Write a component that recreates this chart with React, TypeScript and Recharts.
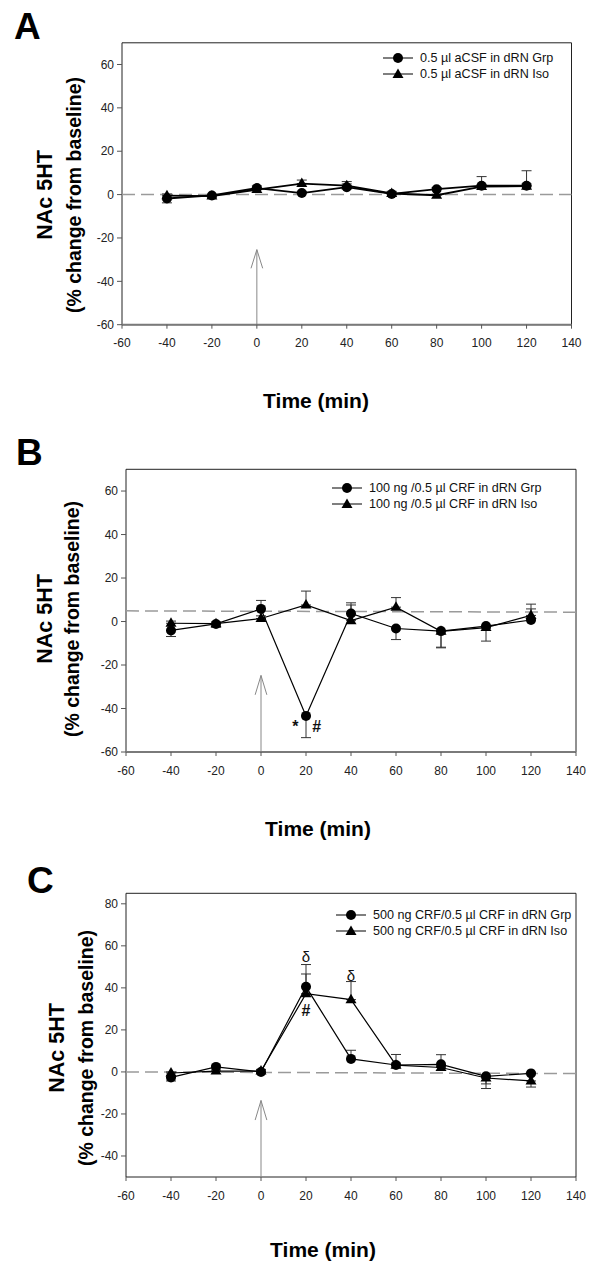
import React from 'react';
import { LineChart, Line, XAxis, YAxis, ErrorBar, ReferenceLine, ReferenceArea, ReferenceDot, Legend } from 'recharts';

const times = [-40, -20, 0, 20, 40, 60, 80, 100, 120];
const xTicks = [-60, -40, -20, 0, 20, 40, 60, 80, 100, 120, 140];
const yTicksAB = [-60, -40, -20, 0, 20, 40, 60];
const yTicksC = [-40, -20, 0, 20, 40, 60, 80];

// panel A - aCSF
const grpA = [-1.8, -0.4, 3.0, 0.7, 3.4, 0.3, 2.5, 4.1, 4.1];
const isoA = [-0.5, -0.7, 2.3, 5.1, 4.1, 0.5, -0.3, 3.7, 3.9];
const grpErrA = [[2, 0], [0.8, 0], [0, 1], [0, 0.8], [0, 1.5], [0, 0.8], [0, 0.8], [0, 4.2], [0, 6.9]];
const isoErrA = [[0, 0.8], [0, 0.5], [0, 0.8], [0, 1.6], [0, 1.9], [0, 1], [0, 0.5], [0, 1], [0, 1]];
const namesA = ['0.5 µl aCSF in dRN Grp', '0.5 µl aCSF in dRN Iso'];
const baselineA = [0, 0];
const arrowA = [-25.4, -34];

// panel B - 100 ng CRF
const grpB = [-4.1, -1.1, 5.8, -43.4, 3.7, -3.2, -4.4, -2.1, 0.7];
const isoB = [-0.8, -1.0, 1.4, 7.6, 0.4, 6.6, -4.5, -2.8, 2.8];
const grpErrB = [[2.8, 0], [1.5, 0], [0, 3.9], [10, 0], [0, 4.9], [5.1, 0], [7.4, 0], [1, 0], [0, 5.1]];
const isoErrB = [[0, 1], [0, 0.8], [0, 1.2], [0, 6.4], [0, 7.2], [0, 4.4], [7.6, 0], [6.2, 0], [0, 5.2]];
const namesB = ['100 ng /0.5 µl CRF in dRN Grp', '100 ng /0.5 µl CRF in dRN Iso'];
const baselineB = [4.9, 4.3];
const arrowB = [-24.8, -33.7];
const notesB = [{ x: 15.3, y: -48.3, t: '*' }, { x: 24.8, y: -48.3, t: '#' }];

// panel C - 500 ng CRF
const grpC = [-2.6, 2.4, 0.0, 40.5, 6.2, 3.3, 3.6, -2.1, -0.7];
const isoC = [-0.5, 0.4, 0.4, 37.2, 34.4, 3.2, 2.1, -2.9, -4.3];
const grpErrC = [[1.7, 0], [0, 0.8], [0, 1], [0, 10.6], [0, 4.1], [0, 5], [0, 4.6], [5.8, 0], [0, 0.5]];
const isoErrC = [[0, 0.5], [0, 0.5], [0, 0.8], [0, 9.4], [0, 8.6], [0, 1], [0, 0.5], [2.8, 0], [2.9, 0]];
const namesC = ['500 ng CRF/0.5 µl CRF in dRN Grp', '500 ng CRF/0.5 µl CRF in dRN Iso'];
const baselineC = [0, -0.8];
const arrowC = [-13.6, -22.9];
const notesC = [{ x: 20, y: 54.8, t: 'δ' }, { x: 40, y: 45.8, t: 'δ' }, { x: 20, y: 29.4, t: '#' }];

const FONT = "'Liberation Sans', Arial, Helvetica, sans-serif";
const W = 609;
const Y_AXIS_W = 40;
const X_AXIS_H = 30;
const grayAxis = { stroke: '#7a7a7a', strokeWidth: 2 };

const panels = [
  {
    letter: 'A', height: 420, plot: { left: 122, right: 571.5, top: 42.8, bottom: 356.7 }, yDomain: [-60, 70], yTicks: yTicksAB,
    grp: grpA, iso: isoA, grpErr: grpErrA, isoErr: isoErrA, names: namesA, baseline: baselineA, arrow: arrowA, notes: [] as { x: number; y: number; t: string }[],
    letterPos: { x: 14, y: 39 }, nacX: 44.5, pctX: 73.5, yLabY: 195, xLab: { x: 316, y: 400 }, legend: { x: 383, y: 58.2 },
    xAxisLine: grayAxis, lineW: 1.8,
  },
  {
    letter: 'B', height: 420, plot: { left: 126, right: 576, top: 49.3, bottom: 364 }, yDomain: [-60, 70], yTicks: yTicksAB,
    grp: grpB, iso: isoB, grpErr: grpErrB, isoErr: isoErrB, names: namesB, baseline: baselineB, arrow: arrowB, notes: notesB,
    letterPos: { x: 16, y: 45 }, nacX: 44.5, pctX: 71.7, yLabY: 199, xLab: { x: 318, y: 408 }, legend: { x: 332, y: 67.7 },
    xAxisLine: grayAxis, lineW: 1.2,
  },
  {
    letter: 'C', height: 426, plot: { left: 126, right: 576, top: 53.3, bottom: 369 }, yDomain: [-50, 85], yTicks: yTicksC,
    grp: grpC, iso: isoC, grpErr: grpErrC, isoErr: isoErrC, names: namesC, baseline: baselineC, arrow: arrowC, notes: notesC,
    letterPos: { x: 27, y: 53 }, nacX: 57, pctX: 86, yLabY: 208, xLab: { x: 323, y: 409 }, legend: { x: 336, y: 75 },
    xAxisLine: false as const, lineW: 1.2,
  },
];

const circleDot = (props: any) => {
  const { cx, cy, index } = props;
  if (cx == null || cy == null) return <g key={`c${index}`} />;
  return <circle key={`c${index}`} cx={cx} cy={cy} r={5} fill="#000" />;
};

const triangleDot = (props: any) => {
  const { cx, cy, index } = props;
  if (cx == null || cy == null) return <g key={`t${index}`} />;
  return <path key={`t${index}`} d={`M${cx},${cy - 6}L${cx + 5.5},${cy + 3.5}L${cx - 5.5},${cy + 3.5}Z`} fill="#000" />;
};

const makeLegend = (names: string[]) => () => (
  <div style={{ fontFamily: FONT, fontSize: 12.6, color: '#111' }}>
    {names.map((n, i) => (
      <div key={n} style={{ display: 'flex', alignItems: 'center', height: 16, whiteSpace: 'nowrap' }}>
        <svg width={30} height={12} style={{ marginRight: 7 }}>
          <line x1={0} y1={6} x2={30} y2={6} stroke="#555" strokeWidth={1.5} />
          {i === 0 ? <circle cx={15} cy={6} r={5} fill="#000" /> : <path d="M15,0.5L20.5,10L9.5,10Z" fill="#000" />}
        </svg>
        {n}
      </div>
    ))}
  </div>
);

function Panel({ p }: { p: (typeof panels)[number] }) {
  const rows = times.map((t, i) => ({ t, grp: p.grp[i], iso: p.iso[i], grpErr: p.grpErr[i], isoErr: p.isoErr[i] }));
  const margin = {
    top: p.plot.top,
    right: W - p.plot.right,
    left: p.plot.left - Y_AXIS_W,
    bottom: p.height - p.plot.bottom - X_AXIS_H,
  };
  const [yMin, yMax] = p.yDomain;
  const [tip, base] = p.arrow;
  const tickStyle = { fontSize: 12, fill: '#222', fontFamily: FONT };

  return (
    <div style={{ position: 'relative', width: W, height: p.height }}>
      <LineChart width={W} height={p.height} data={rows} margin={margin}>
        <ReferenceArea x1={-60} x2={140} y1={yMin} y2={yMax} fill="none" fillOpacity={0} stroke="#222" strokeWidth={1} />
        <XAxis
          dataKey="t" type="number" domain={[-60, 140]} ticks={xTicks} allowDataOverflow
          height={X_AXIS_H} axisLine={p.xAxisLine} tickLine={{ stroke: '#555' }} tickSize={4} tickMargin={10} tick={tickStyle}
        />
        <YAxis
          type="number" domain={p.yDomain} ticks={p.yTicks} allowDataOverflow width={Y_AXIS_W}
          axisLine={false} tickLine={{ stroke: '#555' }} tickSize={5} tickMargin={3} tick={tickStyle}
        />
        <ReferenceLine
          segment={[{ x: -60, y: p.baseline[0] }, { x: 140, y: p.baseline[1] }]}
          stroke="#9a9a9a" strokeWidth={1.5} strokeDasharray="13 6"
        />
        <ReferenceLine segment={[{ x: 0, y: yMin }, { x: 0, y: tip }]} stroke="#888" strokeWidth={1} />
        <ReferenceLine segment={[{ x: 0, y: tip }, { x: -2.6, y: base }]} stroke="#888" strokeWidth={1} />
        <ReferenceLine segment={[{ x: 0, y: tip }, { x: 2.6, y: base }]} stroke="#888" strokeWidth={1} />
        <Line dataKey="iso" stroke="#000" strokeWidth={p.lineW} dot={triangleDot} activeDot={false} isAnimationActive={false}>
          <ErrorBar dataKey="isoErr" direction="y" width={5} stroke="#333" strokeWidth={1} isAnimationActive={false} />
        </Line>
        <Line dataKey="grp" stroke="#000" strokeWidth={p.lineW} dot={circleDot} activeDot={false} isAnimationActive={false}>
          <ErrorBar dataKey="grpErr" direction="y" width={5} stroke="#333" strokeWidth={1} isAnimationActive={false} />
        </Line>
        {p.notes.map((n, i) => (
          <ReferenceDot
            key={i} x={n.x} y={n.y} r={0}
            shape={(s: any) => (
              <text x={s.cx} y={s.cy} textAnchor="middle" dominantBaseline="central"
                fontFamily={FONT} fontWeight={n.t === 'δ' ? 'normal' : 'bold'} fontSize={n.t === 'δ' ? 15 : 16} fill="#111">
                {n.t}
              </text>
            )}
          />
        ))}
        <Legend content={makeLegend(p.names)} wrapperStyle={{ left: p.legend.x, top: p.legend.y - 8, width: 'auto', height: 'auto' }} />
      </LineChart>
      <svg width={W} height={p.height} style={{ position: 'absolute', left: 0, top: 0, pointerEvents: 'none' }}>
        <text x={p.letterPos.x} y={p.letterPos.y} fontFamily={FONT} fontWeight="bold" fontSize={37} fill="#000">{p.letter}</text>
        <text x={p.nacX} y={p.yLabY} transform={`rotate(-90 ${p.nacX} ${p.yLabY})`} textAnchor="middle" dominantBaseline="central"
          fontFamily={FONT} fontWeight="bold" fontSize={21.5} fill="#000">NAc 5HT</text>
        <text x={p.pctX} y={p.yLabY} transform={`rotate(-90 ${p.pctX} ${p.yLabY})`} textAnchor="middle" dominantBaseline="central"
          fontFamily={FONT} fontWeight="bold" fontSize={19.5} fill="#000">(% change from baseline)</text>
        <text x={p.xLab.x} y={p.xLab.y} textAnchor="middle" dominantBaseline="central"
          fontFamily={FONT} fontWeight="bold" fontSize={21} fill="#000">Time (min)</text>
      </svg>
    </div>
  );
}

export default function App() {
  return (
    <div style={{ position: 'absolute', left: 0, top: 0, width: W, height: 1266, background: '#fff' }}>
      {panels.map((p) => (
        <Panel key={p.letter} p={p} />
      ))}
    </div>
  );
}
